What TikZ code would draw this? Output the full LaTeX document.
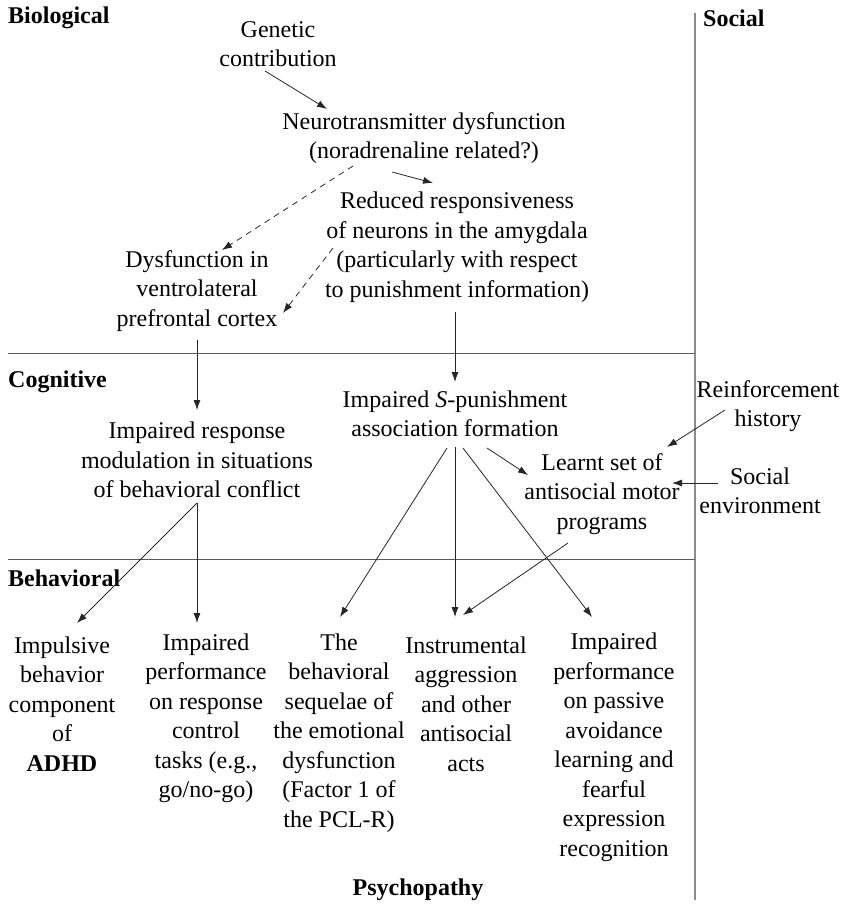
\documentclass[tikz,border=0pt]{standalone}
\usepackage{fontspec}
\setmainfont{Liberation Serif}
\usetikzlibrary{arrows.meta,calc}
\begin{document}
\begin{tikzpicture}[x=1pt,y=-1pt,
  txt/.style={align=center,inner sep=0pt,font=\fontsize{24}{29.5}\selectfont},
  lbl/.style={inner sep=0pt,font=\fontsize{24}{29.5}\selectfont\bfseries},
  arr/.style={-{Latex[length=10pt,width=7pt]},line width=0.8pt,black!85},
  darr/.style={arr,dash pattern=on 6pt off 5pt},
  sep/.style={line width=1pt,black!65},
  vsep/.style={line width=1.6pt,black!45}]
\useasboundingbox (0,0) rectangle (841,904);
% separators
\coordinate (vt) at (695,13);
\coordinate (vb) at (695,900);
\coordinate (h1l) at (8,353);
\coordinate (h1r) at (695,353);
\coordinate (h2l) at (8,559);
\coordinate (h2r) at (695,559);
\draw[vsep] (vt) -- (vb);
\draw[sep] (h1l) -- (h1r);
\draw[sep] (h2l) -- (h2r);
% labels
\node[lbl,anchor=west] (lbio) at (8,18) {Biological};
\node[lbl,anchor=west] (lsoc) at (703,18) {Social};
\node[lbl,anchor=west] (lcog) at (8,382) {Cognitive};
\node[lbl,anchor=west] (lbeh) at (8,578) {Behavioral};
\node[lbl] (lpsy) at (418,890) {Psychopathy};
% nodes
\node[txt] (gen) at (278,44) {Genetic\\contribution};
\node[txt] (neuro) at (424,138) {Neurotransmitter dysfunction\\(noradrenaline related?)};
\node[txt] (amyg) at (457,247) {Reduced responsiveness\\of neurons in the amygdala\\(particularly with respect\\to punishment information)};
\node[txt] (vlpfc) at (197,291) {Dysfunction in\\ventrolateral\\prefrontal cortex};
\node[txt] (irm) at (197,460) {Impaired response\\modulation in situations\\of behavioral conflict};
\node[txt] (isp) at (455,414) {Impaired \textit{S}-punishment\\association formation};
\node[txt] (learnt) at (602,494) {Learnt set of\\antisocial motor\\programs};
\node[txt] (reinf) at (768,406) {Reinforcement\\history};
\node[txt] (socenv) at (760,491) {Social\\environment};
\node[txt] (b1) at (62,704) {Impulsive\\behavior\\component\\of\\\textbf{ADHD}};
\node[txt] (b2) at (206,718.5) {Impaired\\performance\\on response\\control\\tasks (e.g.,\\go/no-go)};
\node[txt] (b3) at (339,733) {The\\behavioral\\sequelae of\\the emotional\\dysfunction\\(Factor 1 of\\the PCL-R)};
\node[txt] (b4) at (466,704) {Instrumental\\aggression\\and other\\antisocial\\acts};
\node[txt] (b5) at (614,747.5) {Impaired\\performance\\on passive\\avoidance\\learning and\\fearful\\expression\\recognition};
% connectors
\draw[arr] ($(gen.center)+(-13,27)$) -- ($(neuro.center)+(-97,-29)$);
\draw[darr] ($(neuro.center)+(-71,28)$) -- ($(vlpfc.center)+(25,-41)$);
\draw[arr] ($(neuro.center)+(-32,34)$) -- ($(amyg.center)+(-24,-64)$);
\draw[darr] ($(amyg.center)+(-124,1)$) -- ($(vlpfc.center)+(86,22)$);
\draw[arr] ($(amyg.center)+(-2,65)$) -- ($(isp.center)+(0,-32)$);
\draw[arr] ($(vlpfc.center)+(0,49)$) -- ($(irm.center)+(0,-50)$);
\draw[arr] ($(irm.center)+(0,43)$) -- ($(b1.center)+(15,-81)$);
\draw[arr] ($(irm.center)+(0,43)$) -- ($(b2.center)+(-9,-95.5)$);
\draw[arr] ($(isp.center)+(-8,34)$) -- ($(b3.center)+(1,-116)$);
\draw[arr] ($(isp.center)+(0,33)$) -- ($(b4.center)+(-11,-87)$);
\draw[arr] ($(isp.center)+(8,34)$) -- ($(b5.center)+(-22,-130.5)$);
\draw[arr] ($(isp.center)+(32,34)$) -- ($(learnt.center)+(-74,-19)$);
\draw[arr] ($(reinf.center)+(-43,4)$) -- ($(learnt.center)+(65,-47)$);
\draw[arr] ($(socenv.center)+(-42,-8)$) -- ($(learnt.center)+(70,-11)$);
\draw[arr] ($(learnt.center)+(-34,49)$) -- ($(b4.center)+(-3,-89)$);
\end{tikzpicture}
\end{document}
